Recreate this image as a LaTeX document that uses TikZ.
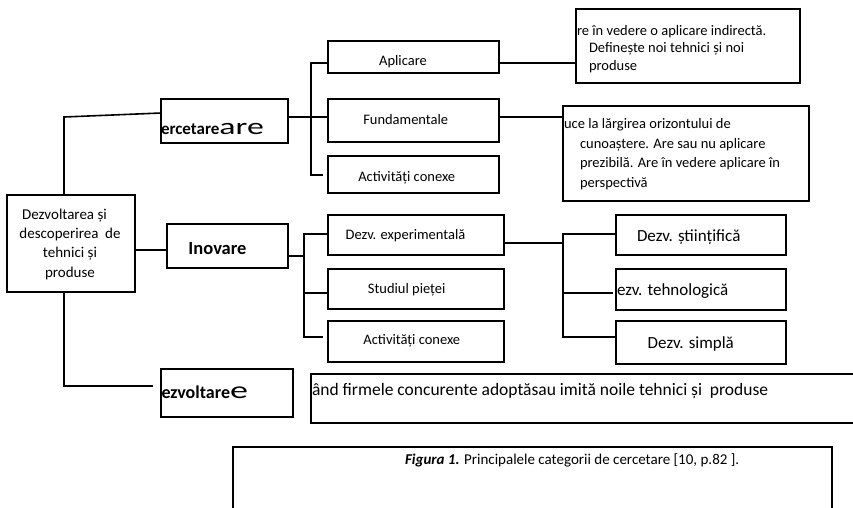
\documentclass[tikz,border=0pt]{standalone}
\usepackage{fontspec}
\usepackage{graphicx}
\setmainfont{Carlito}
\begin{document}
\begin{tikzpicture}[x=1pt,y=-1pt]
\tikzset{
  box/.style={draw, line width=1.6pt, inner sep=0pt, outer sep=0pt},
  conn/.style={line width=1.6pt},
  tx/.style={inner sep=0pt, outer sep=0pt},
  fs/.style={font=\fontsize{14.5}{17.5}\selectfont},
  fm/.style={font=\fontsize{17}{20}\selectfont},
}
\clip (0,0) rectangle (853,507);
\useasboundingbox (0,0) rectangle (853,507);
% boxes
\node[box, minimum width=128pt, minimum height=97pt] (root) at (71,243.5) {};
\node[box, minimum width=127pt, minimum height=44pt] (cerc) at (224.5,121) {};
\node[box, minimum width=121pt, minimum height=44pt] (inov) at (227.5,246) {};
\node[box, minimum width=132pt, minimum height=48pt] (dezv) at (227,393) {};
\node[box, minimum width=171pt, minimum height=32pt] (apl) at (413.5,57) {};
\node[box, minimum width=171pt, minimum height=43pt] (fund) at (413.5,120.5) {};
\node[box, minimum width=171pt, minimum height=37pt] (act1) at (413.5,174.5) {};
\node[box, minimum width=224pt, minimum height=74pt] (aplD) at (688,46) {};
\node[box, minimum width=246pt, minimum height=95pt] (fundD) at (686,153.5) {};
\node[box, minimum width=176pt, minimum height=40pt] (dexp) at (416,235) {};
\node[box, minimum width=176pt, minimum height=40pt] (stud) at (416,289) {};
\node[box, minimum width=176pt, minimum height=41pt] (act2) at (416,341.5) {};
\node[box, minimum width=170pt, minimum height=40pt] (dst) at (701,235) {};
\node[box, minimum width=170pt, minimum height=41pt] (dteh) at (701,289.5) {};
\node[box, minimum width=170pt, minimum height=43pt] (dsim) at (701,342.5) {};
\node[box, minimum width=569pt, minimum height=49pt] (long) at (595.5,398.5) {};
\node[box, minimum width=599pt, minimum height=93pt] (fig) at (532.5,493.5) {};
% texts (base anchor of a multi-line text = baseline of its last line)
\node[tx, anchor=base, align=center, font=\fontsize{15}{19.3}\selectfont] (roott) at (70,277)
  {Dezvoltarea și\hspace*{11pt}\\descoperirea\ \ de\\tehnici și\\produse};
\node[tx, anchor=base west] (cerct) at (161,134)
  {\fontsize{17}{17}\selectfont\bfseries ercetare\fontsize{23}{23}\selectfont\mdseries\scalebox{1.47}[1]{are}};
\node[tx, anchor=base, font=\fontsize{18.5}{20}\selectfont\bfseries] (inovt) at (217.5,254) {Inovare};
\node[tx, anchor=base west] (dezvt) at (161.5,398)
  {\fontsize{18}{18}\selectfont\bfseries ezvoltare\fontsize{24}{24}\selectfont\mdseries\scalebox{1.5}[1]{e}};
\node[tx, fs, anchor=base] (aplt) at (403,65) {Aplicare};
\node[tx, fs, anchor=base] (fundt) at (405.7,124) {Fundamentale};
\node[tx, fs, anchor=base] (act1t) at (406.7,181.7) {Activități conexe};
\node[tx, fs, anchor=base west, align=left] (aplDt) at (577,70)
  {re în vedere o aplicare indirectă.\\\hspace*{12pt}Definește noi tehnici și noi\\\hspace*{12pt}produse};
\node[tx, anchor=base west, align=left, font=\fontsize{14.5}{19.7}\selectfont] (fundDt) at (564,187.4)
  {uce la lărgirea orizontului de\\\hspace*{16pt}cunoaștere. Are sau nu aplicare\\\hspace*{16pt}prezibilă. Are în vedere aplicare în\\\hspace*{16pt}perspectivă};
\node[tx, fs, anchor=base] (dexpt) at (405.5,239.3) {Dezv. experimentală};
\node[tx, fs, anchor=base] (studt) at (406.7,293.3) {Studiul pieței};
\node[tx, fs, anchor=base] (act2t) at (411.8,344) {Activități conexe};
\node[tx, fm, anchor=base] (dstt) at (688.7,241.7) {Dezv. științifică};
\node[tx, fm, anchor=base west] (dteht) at (617,295) {ezv. tehnologică};
\node[tx, fm, anchor=base] (dsimt) at (690.8,348.3) {Dezv. simplă};
\node[tx, anchor=base west, font=\fontsize{17.5}{20}\selectfont] (longt) at (312,395)
  {ând firmele concurente adoptăsau imită noile tehnici și\ \ produse};
\node[tx, anchor=base west, font=\fontsize{15}{18}\selectfont] (figt) at (405,464.3)
  {\textbf{\textit{Figura 1.}} Principalele categorii de cercetare [10, p.82 ].};
% connectors
\coordinate (k1) at (64,117);
\coordinate (k2) at (153,386);
\coordinate (k3) at (150,250);
\coordinate (k4) at (311,117);
\coordinate (b1a) at (311,63);
\coordinate (b1b) at (311,175);
\coordinate (b1c) at (323,175);
\coordinate (k8) at (304,256);
\coordinate (b2a) at (304,234);
\coordinate (b2b) at (304,337);
\coordinate (b2c) at (323,337);
\coordinate (b2m) at (304,293);
\coordinate (b3x) at (563,243);
\coordinate (b3a) at (563,234);
\coordinate (b3b) at (563,337);
\coordinate (b3m) at (563,293);
\coordinate (b3e) at (613,293);
\draw[conn] (root.north -| k1) -- (k1) -- ([yshift=8pt]cerc.west);
\draw[conn] (root.south -| k1) |- (k2);
\draw[conn] (root.east |- k3) -- (inov.west |- k3);
\draw[conn] (cerc.east |- k4) -- (fund.west |- k4);
\draw[conn] (apl.west |- b1a) -- (b1a) -- (b1b) -- (b1c);
\draw[conn] (apl.east |- b1a) -- (aplD.west |- b1a);
\draw[conn] (fund.east |- k4) -- (fundD.west |- k4);
\draw[conn] (inov.east |- k8) -- (k8);
\draw[conn] (dexp.west |- b2a) -- (b2a) -- (b2b) -- (b2c);
\draw[conn] (b2m) -- (stud.west |- b2m);
\draw[conn] (dexp.east |- b3x) -- (b3x);
\draw[conn] (dst.west |- b3a) -- (b3a) -- (b3b) -- (dsim.west |- b3b);
\draw[conn] (b3m) -- (b3e);
\end{tikzpicture}
\end{document}
